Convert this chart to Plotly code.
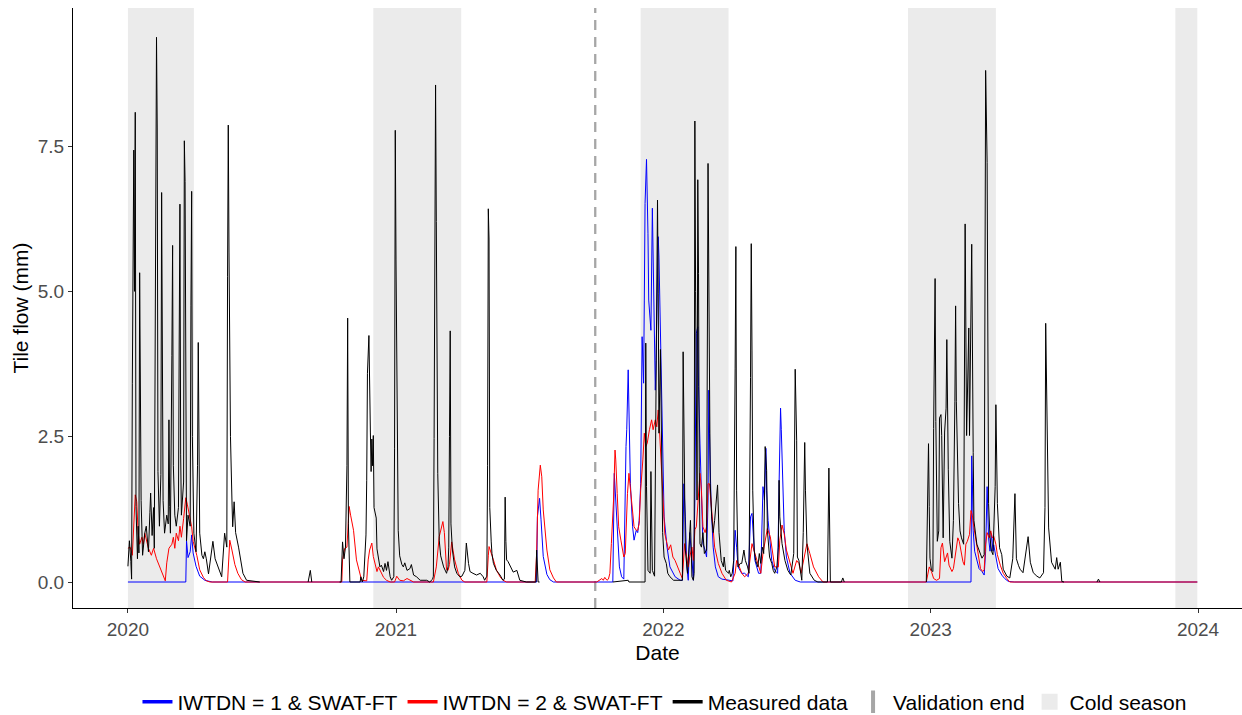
import pandas as pd
import plotly.graph_objects as go

ORIGIN = "2020-01-01"  # day 0 of the record

# ---- IWTDN = 1 & SWAT-FT (blue): day since 2020-01-01, tile flow (mm)
blue_day = [0, 79, 80, 82, 85, 87, 89, 93, 98, 105, 115,
            558, 559, 562, 564, 567, 572, 576, 581,
            662, 664, 666, 668, 671, 674, 677, 680, 681, 683, 685, 686, 689, 691, 694, 696, 698, 700,
            702, 704, 705, 706, 708, 709, 710, 711, 714, 716, 717, 718, 720, 721, 723, 724, 725, 727,
            729, 730, 732, 736, 740, 747, 754, 757, 759, 761, 763, 765, 767, 770, 772, 774, 775, 776,
            778, 779, 781, 783, 785, 788, 790, 792, 793, 794, 796, 799, 802, 806, 811, 826, 829, 831,
            833, 838, 842, 847, 850, 852, 854, 856, 861, 864, 867, 869, 871, 872, 874, 877, 879, 883,
            887, 889, 891, 892, 894, 896, 899, 904, 911, 918,
            1151, 1152, 1153, 1154, 1156, 1159, 1162, 1166, 1169, 1171, 1173, 1175, 1177, 1179, 1181,
            1182, 1185, 1188, 1193, 1197, 1202, 1210, 1460]
blue_val = [0, 0, 0.71, 0.42, 0.52, 0.81, 0.5, 0.27, 0.1, 0.03, 0,
            0, 1.12, 1.44, 1.07, 0.44, 0.13, 0.04, 0,
            0, 1.87, 1.41, 0.85, 0.26, 0.09, 0.05, 2.33, 2.62, 3.65, 2.56, 1.69, 0.95, 0.72, 0.89, 0.85, 1.06, 1.69,
            4.22, 3.42, 4.85, 6.51, 7.27, 6.77, 5.99, 4.85, 4.33, 6.43, 5.71, 4.39, 3.3, 3.81, 5.08, 5.94, 5.59, 4.28,
            3.13, 1.98, 1.12, 0.6, 0.26, 0.09, 0.03, 0.03, 1.69, 1.12, 0.26, 0.03, 0.85, 0.4, 0.03, 1.41, 3.13, 4.28,
            4.39, 3.36, 2.39, 1.41, 0.66, 0.55, 0.43, 1.41, 3.3, 2.56, 1.41, 0.6, 0.26, 0.09, 0.05, 0.02, 0.89, 0.6,
            0.26, 0.15, 0.15, 0.09, 1.12, 1.18, 0.66, 0.37, 0.15, 0.15, 1.64, 1.41, 2.3, 1.58, 1.06, 0.66, 0.37, 0.2,
            0.15, 1.69, 2.99, 2.62, 1.69, 0.89, 0.43, 0.15, 0.03, 0,
            0, 2.17, 1.67, 0.88, 0.53, 0.35, 0.23, 0.18, 0.12, 0.53, 1.64, 0.76, 0.53, 0.83, 0.53,
            0.64, 0.41, 0.23, 0.12, 0.06, 0.01, 0, 0]

# ---- IWTDN = 2 & SWAT-FT (red)
red_day = [0, 3, 6, 10, 12, 14, 16, 19, 21, 23, 28, 32, 35, 39, 51, 53, 56, 60, 62, 64, 66, 69, 71, 73, 76,
           79, 81, 85, 87, 89, 94, 98, 103, 107, 112, 136, 138, 139, 142, 146, 150, 155, 160,
           292, 293, 296, 299, 302, 304, 308, 312, 317, 319, 326, 328, 330, 333, 335, 337, 340, 342, 344,
           346, 349, 353, 358, 364, 367, 371, 376, 381, 385, 390,
           417, 421, 425, 430, 432, 435, 437, 439, 442, 446, 451, 456, 460,
           490, 492, 493, 499, 503, 508, 512, 517,
           556, 558, 560, 563, 565, 567, 572, 576, 581, 585,
           640, 647, 649, 651, 654, 656, 658, 660, 663, 665, 666, 668, 670, 673, 675, 677, 679, 680, 682,
           684, 686, 689, 691, 694, 696, 698, 700, 703, 705, 707, 709, 712, 715, 717, 720, 722, 724, 725,
           727, 729, 731, 733, 736, 738, 741, 744, 747, 750, 754, 757, 760, 762, 765, 767, 770, 772, 774,
           776, 779, 781, 783, 785, 788, 790, 792, 794, 797, 799, 801, 806, 811, 817, 824, 829, 831, 833,
           838, 842, 847, 852, 856, 861, 864, 867, 870, 873, 877, 880, 883, 888, 890, 893, 896, 899, 904,
           908, 913, 916, 919, 925, 927, 931, 936, 943, 949,
           1090, 1091, 1094, 1097, 1100, 1104, 1108, 1110, 1112, 1115, 1117, 1119, 1121, 1125, 1127, 1131,
           1133, 1135, 1137, 1140, 1142, 1144, 1146, 1149, 1151, 1153, 1155, 1158, 1160, 1162, 1164, 1167,
           1169, 1171, 1173, 1176, 1178, 1180, 1182, 1185, 1187, 1191, 1195, 1200, 1204, 1460]
red_val = [0.58, 0.6, 0.46, 1.5, 1.38, 0.84, 0.65, 0.77, 0.65, 0.84, 0.58, 0.46, 0.58, 0.4, 0.02, 0.33, 0.58,
           0.65, 0.77, 0.58, 0.84, 0.71, 0.96, 0.77, 1.09,
           1.45, 1.34, 1.05, 0.95, 0.7, 0.46, 0.21, 0.08, 0.02, 0, 0, 0.4, 0.72, 0.55, 0.3, 0.15, 0.04, 0,
           0, 0.38, 0.58, 0.6, 1.3, 1.15, 0.89, 0.38, 0.12, 0.03, 0.02, 0.38, 0.55, 0.67, 0.44, 0.35, 0.18, 0.26, 0.2,
           0.14, 0.08, 0.03, 0, 0, 0.1, 0.03, 0.02, 0.06, 0.03, 0,
           0, 0.26, 0.78, 1.04, 0.85, 0.21, 0.2, 0.3, 0.69, 0.38, 0.15, 0.03, 0,
           0, 0.45, 0.61, 0.38, 0.21, 0.09, 0.03, 0,
           0, 0.49, 1.58, 2.01, 1.81, 1.24, 0.55, 0.21, 0.07, 0,
           0, 0.06, 0.03, 0.08, 0.03, 0.05, 0.15, 0.66, 1.41, 2.27, 2.1, 1.52, 0.95, 0.72, 0.6, 0.43, 0.49, 0.95, 1.52,
           1.87, 1.64, 1.18, 0.95, 0.89, 0.89, 1.01, 1.58, 2.1, 2.56, 2.33, 2.39, 2.62, 2.79, 2.62, 2.79, 2.67, 2.96, 2.79,
           2.27, 1.69, 1.23, 0.83, 0.66, 0.55, 0.64, 0.43, 0.37, 0.26, 0.15, 0.06, 0.66, 0.49, 0.26, 0.43, 0.6, 0.37, 0.9,
           0.95, 1.41, 1.87, 1.58, 0.95, 0.85, 0.95, 1.69, 1.69, 1.23, 0.89, 0.6, 0.32, 0.15, 0.03, 0, 0.15, 0.37, 0.32,
           0.15, 0.09, 0.15, 0.66, 0.49, 0.26, 0.15, 0.49, 0.72, 0.92, 0.78, 0.49, 0.26, 0.26, 0.72, 0.98, 0.83, 0.55, 0.32,
           0.15, 0.37, 0.32, 0.15, 0.55, 0.66, 0.49, 0.26, 0.09, 0,
           0, 0.06, 0.26, 0.18, 0.06, 0.03, 0.06, 0.59, 0.67, 0.35, 0.44, 0.5, 0.29, 0.18, 0.23, 0.59,
           0.76, 0.7, 0.53, 0.35, 0.29, 0.65, 0.7, 0.82, 1.23, 1.14, 0.94, 0.7, 0.53, 0.35, 0.23, 0.18,
           0.21, 0.65, 0.85, 0.76, 0.88, 0.76, 0.79, 0.65, 0.47, 0.29, 0.15, 0.06, 0, 0]

# ---- Measured data (black); None marks days without measurements
obs_day = [0, 1, 2, 4, 5, 6, 8, 9, 10, 11, 13, 14, 15, 16, 17, 18, 20, 23, 25, 28, 30, 31, 33, 35, 36, 38, 39,
           40, 41, 43, 45, 46, 47, 48, 50, 53, 55, 56, 57, 58, 60, 61, 62, 64, 66, 69, 70, 71, 72, 73, 76, 77,
           78, 79, 80, 82, 85, 86, 87, 88, 90, 93, 95, 96, 97, 98, 101, 103, 105, 107, 110, 112, 116, 119, 123,
           128, 132, 135, 136, 137, 138, 140, 142, 143, 145, 147, 151, 153, 155, 157, 162, 180, None,
           246, 249, 251, None,
           289, 291, 293, 295, 297, 299, 300, 301, 303, 317, 318, 320, 322, 324, 325, 326, 327, 329, 330, 331,
           332, 333, 334, 335, 336, 339, 340, 342, 344, 346, 349, 351, 353, 355, 358, 360, 363, 364, 365, 366,
           368, 369, 371, 374, 376, 378, 381, 385, 387, 390, 394, 399, 408, 412, 416, 417, 418, 419, 420, 421,
           422, 423, 425, 427, 431, 435, 437, 438, 439, 440, 441, 443, 446, 449, 453, 456, 460, 462, 465, 467,
           471, 476, 481, 485, 487, 490, 491, 492, 493, 494, 496, 497, 499, 503, 508, 512, 514, 515, 516, 517,
           519, 522, 526, 531, 533, 535, 544, 557, 558, 560, 562, None,
           662, 683, 684, 706, 707, 708, 710, 713, 714, 716, 719, 721, 723, 724, 725, 727, 729, 730, 732, 735,
           737, 740, 745, 757, 758, 761, 764, 766, 768, 770, 772, 773, 774, 775, 776, 777, 778, 779, 780, 781,
           783, 785, 787, 790, 792, 793, 795, 797, 799, 801, 804, 805, 807, 810, 813, 814, 816, 820, 821, 823,
           825, 827, 829, 830, 831, 833, 836, 838, 841, 843, 846, 848, 850, 851, 852, 853, 855, 857, 860, 862,
           864, 866, 868, 870, 872, 873, 876, 879, 881, 883, 886, 888, 889, 890, 893, 897, 901, 905, 909, 911,
           913, 914, 916, 918, 920, 922, 924, 925, 927, 931, 937, 942, 955, 957, 958, 959, 974, 976, 978, None,
           1090, 1092, 1093, 1094, 1095, 1097, 1099, 1100, 1102, 1103, 1105, 1107, 1108, 1110, 1111, 1113, 1115,
           1117, 1118, 1120, 1122, 1125, 1127, 1129, 1130, 1131, 1134, 1136, 1138, 1141, 1142, 1143, 1145, 1146,
           1148, 1149, 1151, 1152, 1154, 1155, 1159, 1162, 1166, 1169, 1170, 1171, 1173, 1175, 1177, 1179, 1181,
           1184, 1185, 1187, 1190, 1193, 1195, 1200, 1204, 1208, 1211, 1213, 1216, 1218, 1222, 1225, 1229, 1232,
           1236, 1241, 1245, 1250, 1252, 1253, 1255, 1257, 1261, 1266, 1268, 1270, 1273, 1275, 1278, None,
           1323, 1325, 1327]
obs_val = [0.27, 0.45, 0.71, 0.35, 0.05, 3.42, 7.43, 5.0, 8.08, 1.3, 0.4, 0.96, 0.5, 5.32, 3.99, 1.4, 0.46, 0.84,
           0.96, 0.52, 1.2, 1.53, 0.8, 1.28, 0.58, 5.0, 9.37,
           7.81, 1.9, 0.96, 1.85, 6.7, 4.24, 1.4, 0.84, 1.15, 1.0, 2.79, 1.3, 0.84, 3.9, 5.79, 2.0, 1.15, 0.96, 1.28,
           4.18, 6.5, 2.2, 1.15, 1.72, 7.59,
           6.89, 2.0, 0.71, 1.15, 0.96, 4.75, 6.72, 2.5, 0.84, 0.52, 2.0, 4.12, 2.2, 0.84, 0.46, 0.4, 0.52, 0.4, 0.14,
           0.35, 0.7, 0.4, 0.26,
           0.09, 0.84, 0.6, 5.25, 7.86, 5.66, 2.5, 1.41, 0.95, 1.38, 0.85, 0.6, 0.43, 0.32, 0.15, 0.03, 0.0, None,
           0, 0.2, 0, None,
           0, 0, 0.69, 0.4, 0.6, 2.0, 4.54, 1.0, 0.0, 0.0, 0.09, 0.0, 0.09, 0.5, 0.81, 1.75, 3.59, 4.24, 2.8, 2.58,
           1.9, 2.46, 2.0, 2.52, 1.28, 1.1, 0.57, 0.38, 0.26, 0.29, 0.18, 0.32, 0.2, 0.35, 0.09, 0.03, 0.09, 2.29,
           7.77, 5.54,
           1.46, 0.89, 0.45, 0.3, 0.26, 0.33, 0.2, 0.23, 0.3, 0.12, 0.09, 0.03, 0.03, 0.0, 0.05, 0.1, 2.47, 6.25, 8.55,
           6.2,
           3.0, 1.87, 0.72, 0.45, 0.26, 0.15, 0.26, 0.6, 2.5, 4.32, 1.0, 0.55, 0.26, 0.15, 0.09, 0.1, 0.2, 0.67, 0.32,
           0.18,
           0.15, 0.12, 0.15, 0.09, 0.03, 0.1, 2.0, 6.42, 5.9, 1.28, 0.69, 0.49, 0.32, 0.2, 0.12, 0.03, 0.05, 1.46, 0.7,
           0.38,
           0.35, 0.26, 0.17, 0.2, 0.09, 0.03, 0.0, 0.0, 0.55, 0.0, 0.0, None,
           0, 0.03, 0, 0.0, 4.11, 1.64, 0.2, 0.15, 1.9, 0.2, 0.1, 4.39, 6.57, 4.97, 2.56, 4.0, 1.98, 0.85, 0.43, 0.32,
           0.15, 0.09, 0.03, 0.03, 3.96, 0.55, 0.15, 0.55, 1.06, 0.09, 0.03, 0.15, 7.93, 5.0, 2.56, 1.41, 6.92, 5.31,
           1.98, 0.66,
           0.6, 0.85, 0.49, 0.55, 7.2, 5.14, 1.69, 1.12, 0.85, 1.06, 1.64, 1.67, 0.85, 0.37, 0.26, 0.43, 0.2, 0.15,
           0.2, 0.09,
           0.15, 0.37, 3.68, 5.77, 1.58, 0.26, 0.32, 0.32, 0.55, 0.37, 0.26, 0.15, 3.52, 5.82, 3.99, 1.58, 0.55, 0.37,
           0.26, 0.49,
           0.32, 0.6, 0.49, 2.33, 1.92, 0.89, 0.43, 0.32, 0.2, 0.15, 0.26, 0.6, 1.75, 1.12, 0.66, 0.37, 0.2, 0.12,
           0.49, 3.66,
           2.44, 0.43, 0.37, 0.15, 0.03, 0.85, 2.4, 1.58, 0.66, 0.15, 0.03, 0.0, 0.0, 1.96, 0.3, 0.0, 0.0, 0.07, 0.0,
           None,
           0, 1.2, 2.38, 1.3, 0.41, 0.2, 0.18, 2.64, 5.22, 2.76, 0.7, 0.88, 2.82, 2.88, 2.52, 0.76, 2.58,
           2.99, 4.17, 1.94, 0.7, 0.41, 1.06, 3.11, 4.75, 3.11, 1.35, 0.88, 0.76, 0.65, 4.29, 6.16, 2.52, 3.11,
           4.37, 2.52, 5.16, 5.81, 2.23, 1.06, 0.65, 0.53, 0.41, 0.47, 5.16, 8.8, 7.22, 1.35, 0.76, 0.53, 0.47,
           1.64, 3.05, 1.35, 0.59, 0.47, 0.22, 0.1, 0.07, 0.4, 1.52, 0.4, 0.28, 0.22, 0.16, 0.4, 0.78, 0.34,
           0.16, 0.1, 0.07, 0.16, 1.28, 4.45, 2.76, 0.93, 0.34, 0.22, 0.42, 0.22, 0.34, 0.01, 0.0, None,
           0, 0.05, 0]

# ---- Cold seasons and validation end
cold_start = ["2020-01-01", "2020-12-01", "2021-12-01", "2022-12-01", "2023-12-01"]
cold_end = ["2020-03-31", "2021-03-31", "2022-03-31", "2023-03-31", "2023-12-31"]
validation_end = "2021-09-30"

year_ticks = ["2020-01-01", "2021-01-01", "2022-01-01", "2023-01-01", "2024-01-01"]
year_labels = ["2020", "2021", "2022", "2023", "2024"]
y_ticks = [0, 2.5, 5.0, 7.5]
y_labels = ["0.0", "2.5", "5.0", "7.5"]


def to_dates(days):
    base = pd.Timestamp(ORIGIN)
    return [None if d is None else (base + pd.Timedelta(days=d)).strftime("%Y-%m-%d") for d in days]


FONT = "Liberation Sans, Arial, sans-serif"
fig = go.Figure()

fig.add_trace(go.Scatter(x=to_dates(blue_day), y=blue_val, mode="lines",
                         line=dict(color="#0000FF", width=1), showlegend=False, hoverinfo="skip"))
fig.add_trace(go.Scatter(x=to_dates(red_day), y=red_val, mode="lines",
                         line=dict(color="#FF0000", width=1), showlegend=False, hoverinfo="skip"))
fig.add_trace(go.Scatter(x=to_dates(obs_day), y=obs_val, mode="lines", connectgaps=False,
                         line=dict(color="#000000", width=1), showlegend=False, hoverinfo="skip"))

# legend keys
fig.add_trace(go.Scatter(x=[None], y=[None], mode="lines", name="IWTDN = 1 & SWAT-FT",
                         line=dict(color="#0000FF", width=3.5)))
fig.add_trace(go.Scatter(x=[None], y=[None], mode="lines", name="IWTDN = 2 & SWAT-FT",
                         line=dict(color="#FF0000", width=3.5)))
fig.add_trace(go.Scatter(x=[None], y=[None], mode="lines", name="Measured data",
                         line=dict(color="#000000", width=3.5)))
fig.add_trace(go.Scatter(x=[None], y=[None], mode="markers", name="Validation end",
                         marker=dict(symbol="line-ns", size=18, line=dict(color="#A6A6A6", width=4))))
fig.add_trace(go.Scatter(x=[None], y=[None], mode="markers", name="Cold season",
                         marker=dict(symbol="square", size=24, color="#EBEBEB")))

shapes = []
for s, e in zip(cold_start, cold_end):
    shapes.append(dict(type="rect", xref="x", yref="paper", x0=s, x1=e, y0=0, y1=1,
                       fillcolor="#EBEBEB", line=dict(width=0), layer="below"))
shapes.append(dict(type="line", xref="x", yref="paper", x0=validation_end, x1=validation_end,
                   y0=0, y1=1, line=dict(color="#A6A6A6", width=2.3, dash="10px,7px"), layer="below"))

fig.update_layout(
    width=1242, height=715,
    margin=dict(l=73, r=0, t=8, b=107, autoexpand=False),
    paper_bgcolor="white", plot_bgcolor="white",
    font=dict(family=FONT, size=19, color="#000000"),
    shapes=shapes,
    showlegend=True,
    legend=dict(orientation="h", x=0.535, xref="container", xanchor="center",
                y=0.018, yref="container", yanchor="middle",
                font=dict(size=21, color="#000000"), itemwidth=30, traceorder="normal",
                bgcolor="rgba(0,0,0,0)"),
    xaxis=dict(type="date", range=["2019-10-18", "2024-03-01"],
               tickvals=year_ticks, ticktext=year_labels,
               showgrid=False, zeroline=False, showline=True, linecolor="#000000", linewidth=1,
               ticks="outside", ticklen=4, tickcolor="#333333",
               tickfont=dict(size=19, color="#4D4D4D"),
               title=dict(text="Date", font=dict(size=21, color="#000000"), standoff=6)),
    yaxis=dict(range=[-0.447, 9.874], tickvals=y_ticks, ticktext=y_labels,
               showgrid=False, zeroline=False, showline=True, linecolor="#000000", linewidth=1,
               ticks="outside", ticklen=4, tickcolor="#333333",
               tickfont=dict(size=19, color="#4D4D4D"),
               title=dict(text="Tile flow (mm)", font=dict(size=21, color="#000000"), standoff=3)),
)

fig.write_html("out.html")
